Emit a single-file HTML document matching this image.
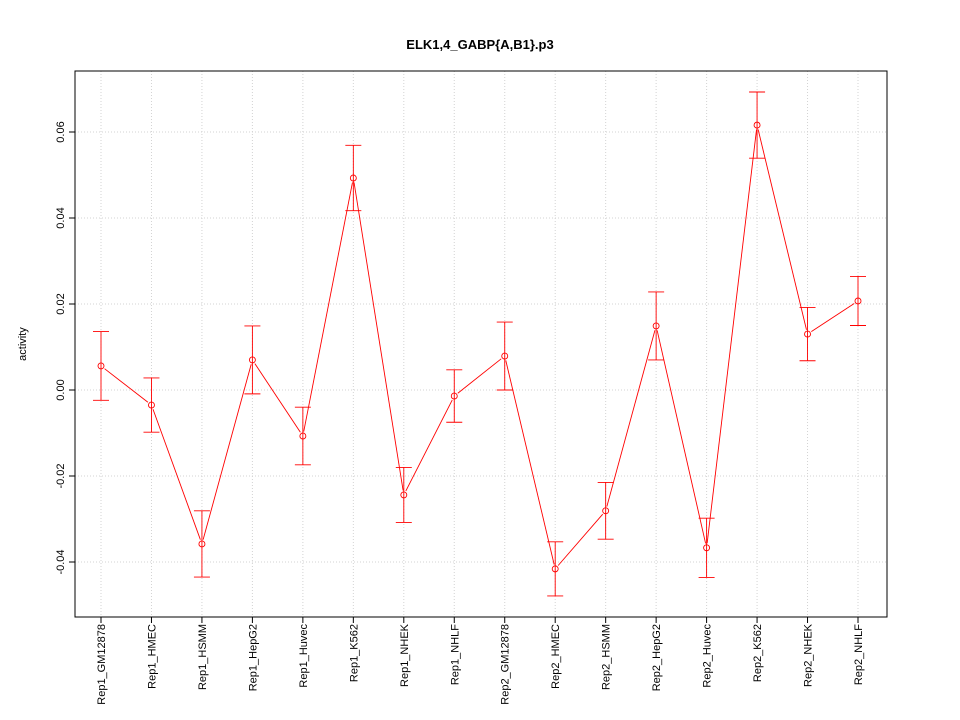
<!DOCTYPE html>
<html><head><meta charset="utf-8"><style>
body{margin:0;background:#fff;}
svg{display:block;font-family:"Liberation Sans",sans-serif;}
</style></head><body>
<svg id="chart" width="960" height="720" viewBox="0 0 960 720">
<rect width="960" height="720" fill="#fff"/>
<text x="480" y="49" text-anchor="middle" font-size="13" font-weight="bold">ELK1,4_GABP{A,B1}.p3</text>
<text transform="translate(26,344) rotate(-90)" text-anchor="middle" font-size="11">activity</text>
<g id="grid"></g><g id="axes"></g><g id="marks"></g>
</svg>
<script>
const categories=["Rep1_GM12878","Rep1_HMEC","Rep1_HSMM","Rep1_HepG2","Rep1_Huvec","Rep1_K562","Rep1_NHEK","Rep1_NHLF","Rep2_GM12878","Rep2_HMEC","Rep2_HSMM","Rep2_HepG2","Rep2_Huvec","Rep2_K562","Rep2_NHEK","Rep2_NHLF"];
const values=[0.0056,-0.0035,-0.0358,0.0070,-0.0107,0.0493,-0.0244,-0.0014,0.0079,-0.0416,-0.0281,0.0149,-0.0367,0.0616,0.0130,0.0207];
const errors=[0.0080,0.0063,0.0077,0.0079,0.0067,0.0076,0.0064,0.0061,0.0079,0.0063,0.0066,0.0079,0.0069,0.0077,0.0062,0.0057];
const yTicks=[-0.04,-0.02,0.00,0.02,0.04,0.06];
const yTickLabels=["-0.04","-0.02","0.00","0.02","0.04","0.06"];
const L=75,R=887,T=71,B=617;
function x(i){return 101+i*(858-101)/(categories.length-1);}
function y(v){return 390-v*4300;}
const NS="http://www.w3.org/2000/svg";
function mk(parent,tag,attrs){const e=document.createElementNS(NS,tag);for(const k in attrs)e.setAttribute(k,attrs[k]);document.getElementById(parent).appendChild(e);return e;}
categories.forEach((c,i)=>{
  const g=mk("grid","line",{x1:x(i),x2:x(i),y1:T,y2:B,stroke:"#d3d3d3","stroke-dasharray":"1,2"});
  
  
  const t=mk("axes","line",{x1:x(i),x2:x(i),y1:B,y2:B+6,stroke:"#000"});
  
  
  const lb=mk("axes","text",{transform:`translate(${x(i)+4},624) rotate(-90)`,"text-anchor":"end","font-size":"11"});
  lb.textContent=c;
  
  
});
yTicks.forEach((v,i)=>{
  const g=mk("grid","line",{x1:L,x2:R,y1:y(v),y2:y(v),stroke:"#d3d3d3","stroke-dasharray":"1,2"});
  
  
  const t=mk("axes","line",{x1:L-6,x2:L,y1:y(v),y2:y(v),stroke:"#000"});
  
  
  const lb=mk("axes","text",{transform:`translate(${L-11},${y(v)}) rotate(-90)`,"text-anchor":"middle","font-size":"11"});
  lb.textContent=yTickLabels[i];
  
  
});
const box=mk("axes","rect",{x:L,y:T,width:R-L,height:B-T,fill:"none",stroke:"#000"});


for(let i=0;i<values.length-1;i++){
  const x0=x(i),y0=y(values[i]),x1=x(i+1),y1=y(values[i+1]);
  const d=Math.hypot(x1-x0,y1-y0),g=4.5;
  const ux=(x1-x0)/d,uy=(y1-y0)/d;
  const s=mk("marks","line",{x1:x0+ux*g,y1:y0+uy*g,x2:x1-ux*g,y2:y1-uy*g,stroke:"#ff0000","stroke-width":"0.9"});
  
  
}
values.forEach((v,i)=>{
  const hi=y(v+errors[i]),lo=y(v-errors[i]);
  const e=mk("marks","path",{d:`M${x(i)},${hi}V${lo}M${x(i)-8},${hi}H${x(i)+8}M${x(i)-8},${lo}H${x(i)+8}`,stroke:"#ff0000","stroke-width":"0.9",fill:"none"});
  
  
  const c=mk("marks","circle",{cx:x(i),cy:y(v),r:3,fill:"none",stroke:"#ff0000","stroke-width":"0.9"});
  
  
});
</script>
</body></html>
